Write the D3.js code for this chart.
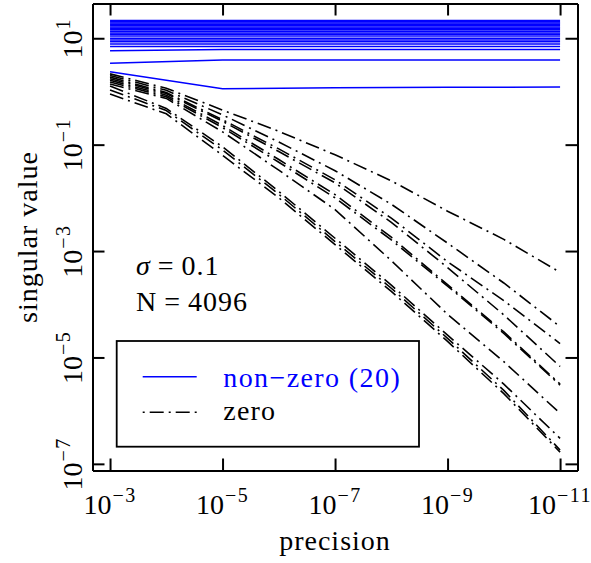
<!DOCTYPE html>
<html>
<head>
<meta charset="utf-8">
<script src="https://cdn.jsdelivr.net/npm/d3@7/dist/d3.min.js"></script>
<style>
  html, body { margin: 0; padding: 0; background: #fff; }
  svg { display: block; }
</style>
</head>
<body>
<svg id="chart" width="591" height="563"></svg>
<script>
// precision levels (x) for each series
const precisionNonZero = [1e-3, 1e-5, 1e-7, 1e-9, 1e-11];
const precisionZero = [1e-3, 1e-4, 1e-5, 1e-6, 1e-7, 1e-8, 1e-9, 1e-10, 1e-11];

// 20 non-zero singular values (one row per value, across precisionNonZero)
const nonZeroValues = [
  [21.5, 21.5, 21.5, 21.5, 21.5],
  [20.5, 20.5, 20.5, 20.5, 20.5],
  [19.4, 19.4, 19.4, 19.4, 19.4],
  [18.4, 18.4, 18.4, 18.4, 18.4],
  [17.4, 17.4, 17.4, 17.4, 17.4],
  [16.3, 16.3, 16.3, 16.3, 16.3],
  [15.4, 15.4, 15.4, 15.4, 15.4],
  [14.5, 14.5, 14.5, 14.5, 14.5],
  [13.6, 13.6, 13.6, 13.6, 13.6],
  [12.6, 12.6, 12.6, 12.6, 12.6],
  [11.9, 11.9, 11.9, 11.9, 11.9],
  [11.0, 11.0, 11.0, 11.0, 11.0],
  [10.0, 10.0, 10.0, 10.0, 10.0],
  [9.3, 9.3, 9.3, 9.3, 9.3],
  [8.6, 8.6, 8.6, 8.6, 8.6],
  [7.8, 7.8, 7.8, 7.8, 7.8],
  [7.0, 7.0, 7.0, 7.0, 7.0],
  [5.8, 6.15, 6.15, 6.15, 6.15],
  [3.4, 3.9, 3.9, 3.9, 3.9],
  [2.34, 1.12, 1.17, 1.2, 1.21]
];

// singular values that should be zero, across precisionZero
const zeroValues = [
  [2.14, 1.15, 0.447, 0.178, 0.0646, 0.0209, 5.62e-3, 1.66e-3, 3.98e-4],
  [2.0, 1.05, 0.363, 0.112, 0.0324, 7.59e-3, 1.41e-3, 2.51e-4, 3.8e-5],
  [1.86, 0.955, 0.295, 0.0832, 0.0219, 4.17e-3, 6.31e-4, 1.17e-4, 1.82e-5],
  [1.74, 0.912, 0.275, 0.0741, 0.0191, 3.47e-3, 4.9e-4, 6.31e-5, 6.76e-6],
  [1.62, 0.851, 0.229, 0.0525, 0.0115, 1.82e-3, 2.34e-4, 3.02e-5, 3.16e-6],
  [1.51, 0.794, 0.209, 0.0468, 0.01, 1.62e-3, 2.19e-4, 2.82e-5, 3.02e-6],
  [1.38, 0.741, 0.174, 0.0331, 6.03e-3, 6.61e-4, 6.46e-5, 8.32e-6, 8.91e-7],
  [1.26, 0.479, 0.0912, 0.0132, 1.74e-3, 2.29e-4, 2.63e-5, 3.16e-6, 3.02e-7],
  [1.07, 0.437, 0.0794, 0.0117, 1.51e-3, 2.0e-4, 2.29e-5, 2.4e-6, 1.82e-7],
  [0.891, 0.38, 0.0631, 0.01, 1.32e-3, 1.74e-4, 2.0e-5, 2.09e-6, 1.66e-7]
];

// tick exponents
const xTickExponents = [-3, -5, -7, -9, -11];
const yTickExponents = [1, -1, -3, -5, -7];

const legendLabels = ["non\u2212zero (20)", "zero"];
const axisTitles = { x: "precision", y: "singular value" };

const blue = "#0000ff";
const dashDot = "14,5,2,5";
const serif = "Liberation Serif";

const svg = d3.select("#chart");
const plot = { left: 92.5, right: 577.5, top: 3.5, bottom: 470.5 };

const x = d3.scaleLog().domain([2.05e-3, 4.9e-12]).range([plot.left, plot.right]);
const y = d3.scaleLog().domain([7.5e-8, 45]).range([plot.bottom, plot.top]);

svg.append("defs").append("clipPath").attr("id", "plotClip")
  .append("rect")
  .attr("x", plot.left).attr("y", plot.top)
  .attr("width", plot.right - plot.left).attr("height", plot.bottom - plot.top);

const lines = svg.append("g").attr("clip-path", "url(#plotClip)");

const zeroLine = d3.line().x((d, i) => x(precisionZero[i])).y(d => y(d));
const nzLine = d3.line().x((d, i) => x(precisionNonZero[i])).y(d => y(d));

lines.selectAll("path.zero").data(zeroValues).join("path")
  .attr("class", "zero")
  .attr("d", zeroLine)
  .attr("fill", "none")
  .attr("stroke", "#000")
  .attr("stroke-width", 1.6)
  .attr("stroke-dasharray", dashDot);

lines.selectAll("path.nz").data(nonZeroValues).join("path")
  .attr("class", "nz")
  .attr("d", nzLine)
  .attr("fill", "none")
  .attr("stroke", blue)
  .attr("stroke-width", 1.5);

// frame with inward ticks on all four sides
const xTicks = xTickExponents.map(e => Math.pow(10, e));
const yTicks = yTickExponents.map(e => Math.pow(10, e));
const tickLen = 12;

function styleAxis(g) {
  g.selectAll("text").remove();
  g.select(".domain").attr("stroke-width", 2).attr("stroke", "#000");
  g.selectAll(".tick line").attr("stroke-width", 2).attr("stroke", "#000");
}

svg.append("g").attr("transform", `translate(0,${plot.bottom})`)
  .call(d3.axisBottom(x).tickValues(xTicks).tickSizeInner(-tickLen).tickSizeOuter(0))
  .call(styleAxis);
svg.append("g").attr("transform", `translate(0,${plot.top})`)
  .call(d3.axisTop(x).tickValues(xTicks).tickSizeInner(-tickLen).tickSizeOuter(0))
  .call(styleAxis);
svg.append("g").attr("transform", `translate(${plot.left},0)`)
  .call(d3.axisLeft(y).tickValues(yTicks).tickSizeInner(-tickLen).tickSizeOuter(0))
  .call(styleAxis);
svg.append("g").attr("transform", `translate(${plot.right},0)`)
  .call(d3.axisRight(y).tickValues(yTicks).tickSizeInner(-tickLen).tickSizeOuter(0))
  .call(styleAxis);

function serifText(parent, size) {
  return parent.append("text")
    .attr("font-family", serif)
    .attr("font-size", size || 28)
    .attr("fill", "#000");
}

// power-of-ten labels
function powerLabel(sel, exp) {
  sel.append("tspan").text("10");
  sel.append("tspan").attr("font-size", 20).attr("dy", -12).attr("dx", 1)
    .attr("letter-spacing", 1.5)
    .text(exp < 0 ? "\u2212" + Math.abs(exp) : String(exp));
}

xTickExponents.forEach(e => {
  const t = serifText(svg)
    .attr("x", x(Math.pow(10, e)))
    .attr("y", 514)
    .attr("text-anchor", "middle");
  powerLabel(t, e);
});

yTickExponents.forEach(e => {
  const t = serifText(svg)
    .attr("transform", `translate(82,${y(Math.pow(10, e))}) rotate(-90)`)
    .attr("text-anchor", "middle");
  powerLabel(t, e);
});

// axis titles
serifText(svg)
  .attr("x", (plot.left + plot.right) / 2).attr("y", 550)
  .attr("text-anchor", "middle").attr("letter-spacing", 1)
  .text(axisTitles.x);
serifText(svg)
  .attr("transform", `translate(37,${(plot.top + plot.bottom) / 2}) rotate(-90)`)
  .attr("text-anchor", "middle").attr("letter-spacing", 1)
  .text(axisTitles.y);

// parameters note, spaced like inline math
const sigmaNote = serifText(svg).attr("x", 136).attr("y", 275);
sigmaNote.append("tspan").attr("font-style", "italic").text("\u03C3");
sigmaNote.append("tspan").attr("dx", 8).text("=");
sigmaNote.append("tspan").attr("dx", 8).attr("letter-spacing", 1).text("0.1");

const nNote = serifText(svg).attr("x", 136).attr("y", 310.7);
nNote.append("tspan").text("N");
nNote.append("tspan").attr("dx", 8).text("=");
nNote.append("tspan").attr("dx", 8).attr("letter-spacing", 1).text("4096");

// legend
const legend = svg.append("g");
legend.append("rect")
  .attr("x", 116.7).attr("y", 341).attr("width", 302.3).attr("height", 105.7)
  .attr("fill", "#fff").attr("stroke", "#000").attr("stroke-width", 1.8);
legend.append("line")
  .attr("x1", 142.7).attr("x2", 196.7).attr("y1", 376.7).attr("y2", 376.7)
  .attr("stroke", blue).attr("stroke-width", 1.6);
legend.append("line")
  .attr("x1", 142.7).attr("x2", 196.7).attr("y1", 412.3).attr("y2", 412.3)
  .attr("stroke", "#000").attr("stroke-width", 1.6)
  .attr("stroke-dasharray", "2,5,14,5");
serifText(legend).attr("x", 223.3).attr("y", 386.7)
  .attr("fill", blue).attr("letter-spacing", 1.4).text(legendLabels[0]);
serifText(legend).attr("x", 223.3).attr("y", 420)
  .attr("letter-spacing", 1.2).text(legendLabels[1]);
</script>
</body>
</html>
